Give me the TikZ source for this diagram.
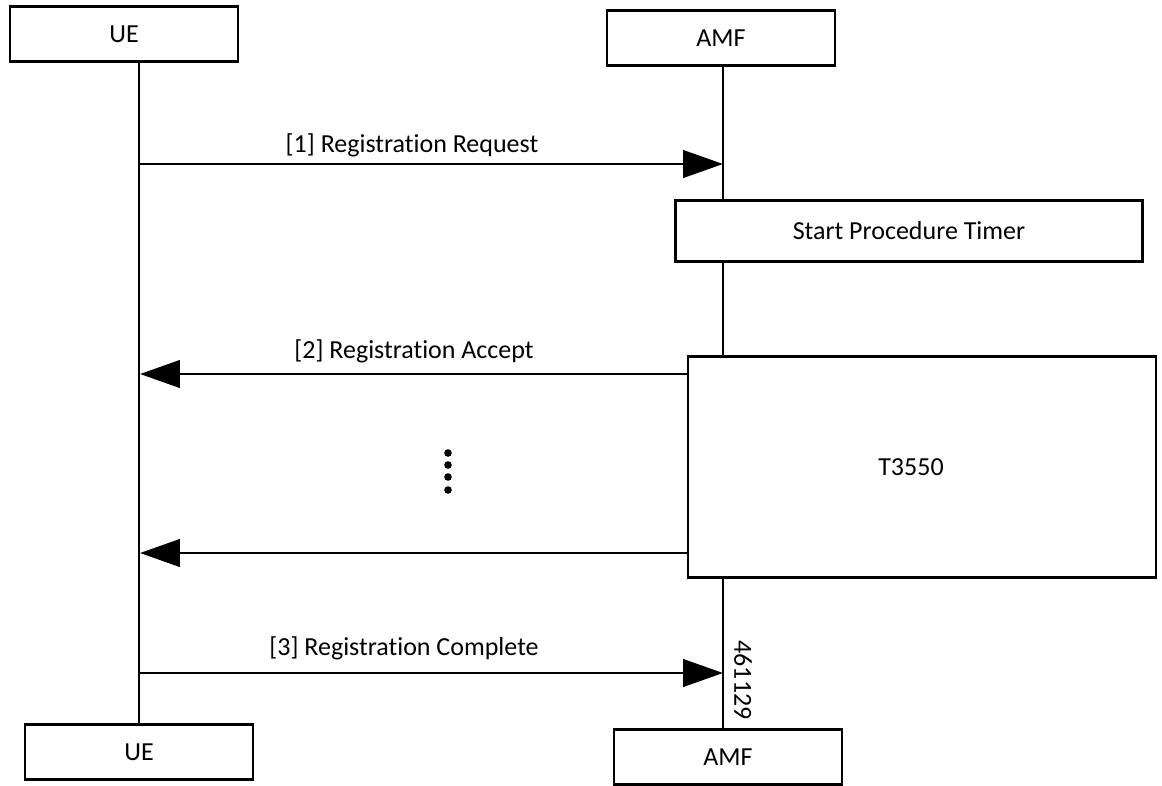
\documentclass[tikz,border=0pt]{standalone}
\usepackage{fontspec}
\setmainfont{Carlito}[Ligatures={NoCommon}]
\usepackage{tikz}
\usetikzlibrary{arrows.meta}

\begin{document}
\begin{tikzpicture}[x=0.02cm,y=-0.02cm,line width=1.6pt,font=\fontsize{14.8}{17}\selectfont,
  >={Triangle[length=0.8cm,width=0.55cm]},
  entity/.style={draw,inner sep=0pt,minimum width=4.56cm,minimum height=1.1cm}]
\useasboundingbox (0,0) rectangle (1162,785);
\node[entity] (UE) at (124,34) {UE};
\node[entity] (AMF) at (721,38) {AMF};
\node[entity] (UEb) at (139,752) {UE};
\node[entity] (AMFb) at (728,757) {AMF};
\node[draw,inner sep=0pt,minimum width=9.34cm,minimum height=1.22cm] (timer) at (909,231) {Start Procedure Timer};
\node[draw,inner sep=0pt,minimum width=9.36cm,minimum height=4.42cm] (T) at (922,467) {};
\node (Tlabel) at (911,467) {T3550};

% lifelines
\draw (UEb.north |- UE.south) -- (UEb.north);
\draw (723,0 |- AMF.south) -- (723,0 |- timer.north);
\draw (723,0 |- timer.south) -- (723,0 |- T.north);
\draw (723,0 |- T.south) -- (723,0 |- AMFb.north);

\coordinate (u1) at (140,164);
\coordinate (a1) at (723,164);
\coordinate (u2) at (140,374);
\coordinate (a2) at (689,374);
\coordinate (u3) at (140,553);
\coordinate (a3) at (689,553);
\coordinate (u4) at (140,673);
\coordinate (a4) at (723,673);

\draw[->] (u1) to (a1);
\draw[->] (a2) to (u2);
\draw[->] (a3) to (u3);
\draw[->] (u4) to (a4);

\node (m1) at (412,145) {[1] Registration Request};
\node (m2) at (414,351) {[2] Registration Accept};
\node (m3) at (404,648) {[3] Registration Complete};
\node[rotate=-90] (id) at (743,680) {461129};

\fill (448,453) circle (3.8);
\fill (448,465) circle (3.8);
\fill (448,477) circle (3.8);
\fill (448,490) circle (3.8);
\end{tikzpicture}
\end{document}
